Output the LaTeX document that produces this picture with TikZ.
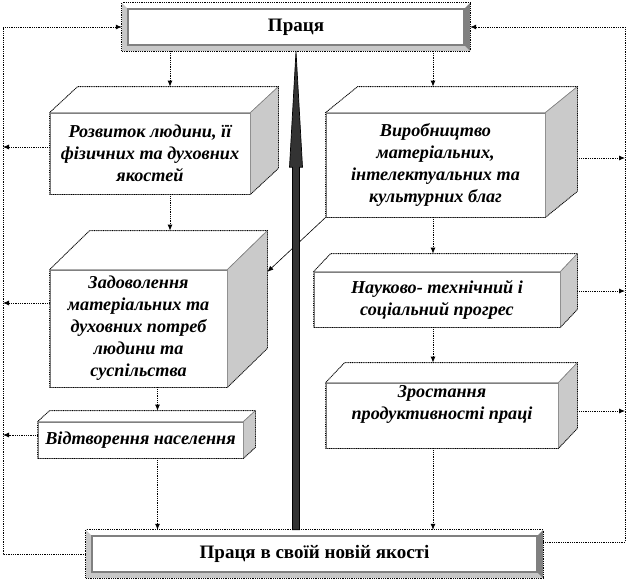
\documentclass[tikz,border=0pt]{standalone}
\usepackage{fontspec}
\setmainfont{Liberation Serif}
\usetikzlibrary{calc,arrows.meta}
\definecolor{sidegray}{HTML}{CACACA}
\definecolor{bevlight}{HTML}{C8C8C8}
\definecolor{bevdark}{HTML}{808080}
\definecolor{arrowgray}{HTML}{333333}

\begin{document}
\begin{tikzpicture}[x=1pt,y=-1pt,
  face/.style={draw=bevdark, line width=0.8pt, fill=white, inner sep=0pt, align=center,
    font=\fontsize{18.2}{22}\selectfont\bfseries\itshape},
  title/.style={inner sep=0pt, align=center, font=\fontsize{19}{23}\selectfont\bfseries},
  link/.style={densely dotted, line width=0.8pt, -{Latex[length=6pt,width=5pt]}},
  rim/.style={densely dotted, line width=0.8pt}]
  \useasboundingbox (0,0) rectangle (628,582);

  %% Title boxes
  \node[title, minimum width=348pt, minimum height=48pt] (Pr)  at (296,27)    {Праця};
  \node[title, minimum width=457pt, minimum height=48pt] (Bot) at (314.5,554) {Праця в своїй новій якості};

  \foreach \n in {Pr,Bot}
  {
    \fill[bevlight] (\n.north west) -- (\n.south west) -- (\n.south east)
      -- ($(\n.south east)+(-6,-6)$) -- ($(\n.south west)+(6,-6)$) -- ($(\n.north west)+(6,6)$) -- cycle;
    \fill[bevdark] (\n.north east) -- (\n.south east) -- ($(\n.south east)+(-6,-6)$) -- ($(\n.north east)+(-6,6)$) -- cycle;
    \draw[bevdark, line width=1.6pt] ($(\n.north west)+(6,6)$) rectangle ($(\n.south east)+(-6,-6)$);
    \draw[rim] (\n.north west) rectangle (\n.south east);
  }

  %% Front faces of the blocks
  \node[face, minimum width=200pt, minimum height=81pt]  (B1) at (150,153.5) {Розвиток людини, її\\фізичних та духовних\\якостей};
  \node[face, minimum width=177pt, minimum height=117pt] (B2) at (138.5,328.5) {Задоволення\\матеріальних та\\духовних потреб\\людини та\\суспільства};
  \node[face, minimum width=205pt, minimum height=36pt]  (B3) at (140.5,440) {Відтворення населення};
  \node[face, minimum width=219pt, minimum height=104pt] (B4) at (435.5,165) {Виробництво\\матеріальних,\\інтелектуальних та\\культурних благ};
  \node[face, minimum width=246pt, minimum height=55pt]  (B5) at (437,299.5) {Науково- технічний і\\соціальний прогрес};
  \node[face, minimum width=232pt, minimum height=65pt]  (B6) at (442,415.5) {Зростання\\продуктивності праці\\[4pt]};

  %% Top and side faces
  \foreach \b/\dx/\dy in {B1/28/26, B2/40/39, B3/12/11, B4/32/26, B5/17/18, B6/19/20}
  {
    \coordinate (\b-nw) at ($(\b.north west)+(\dx,-\dy)$);
    \coordinate (\b-ne) at ($(\b.north east)+(\dx,-\dy)$);
    \coordinate (\b-se) at ($(\b.south east)+(\dx,-\dy)$);
    \filldraw[fill=white, draw=bevdark, line width=0.6pt] (\b.north west) -- (\b-nw) -- (\b-ne) -- (\b.north east) -- cycle;
    \filldraw[fill=sidegray, draw=bevdark, line width=0.6pt] (\b.north east) -- (\b-ne) -- (\b-se) -- (\b.south east) -- cycle;
    \draw[rim] (\b.south west) -- (\b.north west) -- (\b-nw) -- (\b-ne) -- (\b-se) -- (\b.south east) -- cycle;
  }

  %% Columns of the connectors
  \coordinate (colA)  at (170,0);
  \coordinate (colB)  at (157.5,0);
  \coordinate (colC)  at (433,0);
  \coordinate (lineL) at (3,0);
  \coordinate (lineR) at (625,0);

  \draw[link] (Pr.south -| colA) -- (B1-nw -| colA);
  \draw[link] (B1.south -| colA) -- (B2-nw -| colA);
  \draw[link] (B2.south -| colB) -- (B3-nw -| colB);
  \draw[link] (B3.south -| colB) -- (Bot.north -| colB);
  \draw[link] (Pr.south -| colC) -- (B4-nw -| colC);
  \draw[link] (B4.south -| colC) -- (B5-nw -| colC);
  \draw[link] (B5.south -| colC) -- (B6-nw -| colC);
  \draw[link] (B6.south -| colC) -- (Bot.north -| colC);

  \foreach \b/\y in {B1/147, B2/303, B3/435}
    \draw[link] (\b.west |- 0,\y) -- (lineL |- 0,\y);
  \foreach \b/\y in {B4/158, B5/291, B6/411}
    \draw[link] (\b-ne |- 0,\y) -- (lineR |- 0,\y);

  %% Feedback loops
  \draw[link] (Bot.west) -| (lineL |- Pr.west) -- (Pr.west);
  \draw[link] (Bot.east |- 0,542) -| (lineR |- Pr.east) -- (Pr.east);

  \draw[line width=0.6pt, -{Latex[length=6pt,width=5pt]}] (B4.south west) -- ($(B2-ne)!0.35!(B2-se)$);

  %% Big arrow
  \coordinate (tip)  at (Pr.south);
  \coordinate (foot) at (Bot.north -| Pr.south);
  \draw[fill=arrowgray, line width=0.7pt] ($(foot)+(-3.5,0)$) -- ($(tip)+(-3.5,116)$) -- ($(tip)+(-6.5,116)$)
    -- (tip) -- ($(tip)+(6.5,116)$) -- ($(tip)+(3.5,116)$) -- ($(foot)+(3.5,0)$) -- cycle;
\end{tikzpicture}
\end{document}
